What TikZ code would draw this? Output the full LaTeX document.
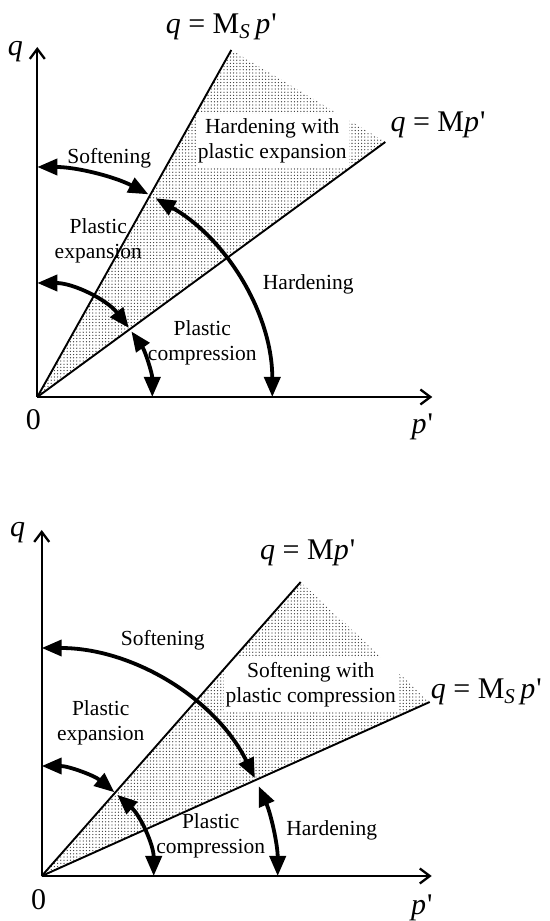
\documentclass[tikz,border=0pt]{standalone}
\usepackage{fontspec}
\setmainfont{Liberation Serif}
\usetikzlibrary{arrows.meta, patterns.meta, positioning}
\tikzset{
  axis/.style={line width=2.3pt, -{Straight Barb[length=10pt,width=15pt]}},
  csl/.style={line width=1.9pt},
  dblarc/.style={line width=3.8pt,
    {Triangle[length=20pt,width=16pt]}-{Triangle[length=20pt,width=16pt]}},
  dotzone/.style={pattern={Dots[distance=3.2pt,radius=0.65pt]},
    pattern color=black!80},
  lbl/.style={font=\fontsize{21.5}{25}\selectfont, align=center, inner sep=0pt},
  zonelbl/.style={lbl, fill=white, inner xsep=2pt, inner ysep=5pt},
  eqn/.style={font=\fontsize{30}{32}\selectfont, inner sep=0pt},
  axlbl/.style={font=\fontsize{30}{32}\selectfont, inner sep=0pt}
}
\newcommand{\pprime}{\textit{p}\kern1pt\textquotesingle}

\begin{document}
\begin{tikzpicture}[x=1pt, y=1pt]
  \useasboundingbox (0,0) rectangle (549,921);
  % Upper panel
  \begin{scope}[shift={(37.3,524)}]
    \coordinate (oa) at (0,0);
    \coordinate (qa) at (0,350);
    \coordinate (pa) at (395,0);
    \coordinate (msa) at (194,347);
    \coordinate (ma) at (348,255);
    % Shaded zone
    \fill[dotzone] (oa) -- (msa) -- (ma) -- cycle;
    \node[zonelbl] (zonea) at (235,256) {Hardening with\\plastic expansion};
    % Axes and lines
    \draw[axis] (oa) -- (qa);
    \draw[axis] (oa) -- (pa);
    \draw[csl] (oa) -- (msa);
    \draw[csl] (oa) -- (ma);
    \node[axlbl] (qlbla) at (-22,345) {\textit{q}};
    \node[axlbl] (zeroa) at (-4,-23) {0};
    \node[axlbl] (plbla) at (385,-30) {\pprime};
    \node[eqn] (eqmsa) at (184,370)
      {\textit{q} = M\textsubscript{\textit{S}}\,\pprime};
    \node[eqn, anchor=west] (eqma) at (353,272) {\textit{q} = M\pprime};
    % Arcs
    \coordinate (softa) at (90:235pt and 230pt);
    \coordinate (harda) at (59.8:235pt and 230pt);
    \coordinate (expa) at (90:115pt and 114pt);
    \coordinate (compa) at (35.1:115pt and 114pt);
    \draw[dblarc] (softa)
      arc[start angle=90, end angle=61.8, x radius=235pt, y radius=230pt];
    \draw[dblarc] (harda)
      arc[start angle=59.8, end angle=0, x radius=235pt, y radius=230pt];
    \draw[dblarc] (expa)
      arc[start angle=90, end angle=37.3, x radius=115pt, y radius=114pt];
    \draw[dblarc] (compa)
      arc[start angle=35.1, end angle=0, x radius=115pt, y radius=114pt];
    % Labels
    \node[lbl] (softlbla) at (72,239) {Softening};
    \node[lbl] (explbla) at (61,156) {Plastic\\expansion};
    \node[lbl] (hardlbla) at (271,113) {Hardening};
    \node[lbl] (complbla) at (165,54) {Plastic\\compression};
  \end{scope}
  % Lower panel
  \begin{scope}[shift={(41.7,45)}]
    \coordinate (ob) at (0,0);
    \coordinate (qb) at (0,346);
    \coordinate (pb) at (390,0);
    \coordinate (mb) at (259,294);
    \coordinate (msb) at (388,174);
    % Shaded zone
    \fill[dotzone] (ob) -- (mb) -- (msb) -- cycle;
    \node[zonelbl] (zoneb) at (269,191) {Softening with\\plastic compression};
    % Axes and lines
    \draw[axis] (ob) -- (qb);
    \draw[axis] (ob) -- (pb);
    \draw[csl] (ob) -- (mb);
    \draw[csl] (ob) -- (msb);
    \node[axlbl] (qlblb) at (-24,343) {\textit{q}};
    \node[axlbl] (zerob) at (-3,-24) {0};
    \node[axlbl] (plblb) at (380,-32) {\pprime};
    \node[eqn] (eqmb) at (266,323) {\textit{q} = M\pprime};
    \node[eqn, anchor=west] (eqmsb) at (389,184)
      {\textit{q} = M\textsubscript{\textit{S}}\,\pprime};
    % Arcs
    \coordinate (softb) at (90:236pt and 228pt);
    \coordinate (hardb) at (23.2:236pt and 228pt);
    \coordinate (expb) at (90:112pt and 110pt);
    \coordinate (compb) at (47.6:112pt and 110pt);
    \draw[dblarc] (softb)
      arc[start angle=90, end angle=25.4, x radius=236pt, y radius=228pt];
    \draw[dblarc] (hardb)
      arc[start angle=23.2, end angle=0, x radius=236pt, y radius=228pt];
    \draw[dblarc] (expb)
      arc[start angle=90, end angle=49.6, x radius=112pt, y radius=110pt];
    \draw[dblarc] (compb)
      arc[start angle=47.6, end angle=0, x radius=112pt, y radius=110pt];
    % Labels
    \node[lbl] (softlblb) at (121,236) {Softening};
    \node[lbl] (explblb) at (59,153) {Plastic\\expansion};
    \node[lbl] (complblb) at (169,40) {Plastic\\compression};
    \node[lbl] (hardlblb) at (290,46) {Hardening};
  \end{scope}
\end{tikzpicture}
\end{document}
